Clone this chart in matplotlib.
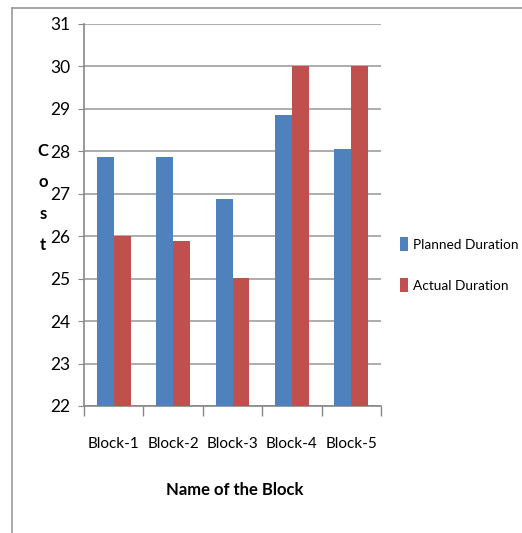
import matplotlib
matplotlib.use("Agg")
import matplotlib.pyplot as plt
import numpy as np
from matplotlib.lines import Line2D

categories = ["Block-1", "Block-2", "Block-3", "Block-4", "Block-5"]
planned = [27.87, 27.87, 26.87, 28.85, 28.06]
actual = [26.0, 25.88, 25.02, 30.0, 30.0]
series_names = ["Planned Duration", "Actual Duration"]
yticks = [22, 23, 24, 25, 26, 27, 28, 29, 30, 31]

plt.rcParams['font.family'] = ['Lato', 'DejaVu Sans']

fig = plt.figure(figsize=(5.22, 5.33), dpi=100)
ax = fig.add_axes([84/522, 1-406/533, (381-84)/522, (406-24)/533])

blue = "#4F81BD"
red = "#C0504D"
x = np.arange(len(categories))
w = 1/3.5
ax.bar(x - w/2, [p - 22 for p in planned], w, bottom=22, color=blue, label=series_names[0], zorder=3)
ax.bar(x + w/2, [a - 22 for a in actual], w, bottom=22, color=red, label=series_names[1], zorder=3)

ax.set_xlim(-0.5, len(categories) - 0.5)
ax.set_ylim(22, 31)
ax.set_yticks(yticks)
ax.set_yticklabels([str(t) for t in yticks], fontsize=12.5)
ax.set_xticks(x)
ax.set_xticklabels(categories, fontsize=11)
ax.tick_params(axis='x', length=0, pad=22)
ax.tick_params(axis='y', length=4, color="#888888", pad=6)
# category boundary ticks
ax.set_xticks(np.arange(-0.5, len(categories), 1.0), minor=True)
ax.tick_params(axis='x', which='minor', length=7, color="#888888", width=1)

ax.grid(axis='y', color="#A6A6A6", linewidth=1.3, zorder=0)
for s in ['top', 'right']:
    ax.spines[s].set_visible(False)
ax.spines['left'].set_color("#888888")
ax.spines['bottom'].set_color("#888888")
ax.spines['left'].set_linewidth(1.2)
ax.spines['bottom'].set_linewidth(1.2)

# stacked y label
fig.text(43/522, 1-198/533, "C\no\ns\nt", fontsize=12, fontweight='bold',
         ha='center', va='center', linespacing=2.2)
fig.text(235/522, 1-490/533, "Name of the Block", fontsize=12, fontweight='bold',
         ha='center', va='center')

leg = fig.legend(loc='upper left', bbox_to_anchor=(400/522, 1-237/533), frameon=False,
                 fontsize=9.8, handlelength=0.6, handleheight=1.2, handletextpad=0.35,
                 labelspacing=2.0, borderaxespad=0, borderpad=0)

# outer frame (left and top)
fig.add_artist(Line2D([12/522, 12/522], [0, 1-8/533], transform=fig.transFigure, color="#999999", lw=1.2))
fig.add_artist(Line2D([12/522, 1], [1-8/533, 1-8/533], transform=fig.transFigure, color="#999999", lw=1.2))

fig.savefig("out.png", dpi=100)
